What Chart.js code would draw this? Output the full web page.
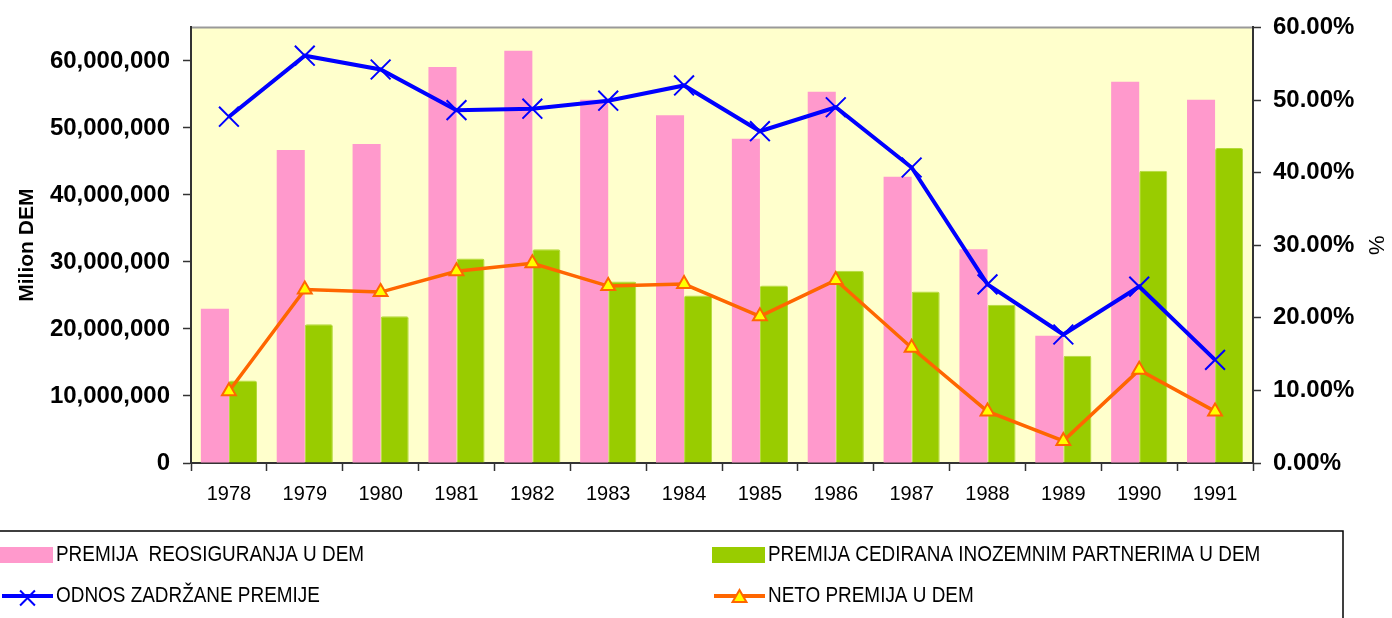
<!DOCTYPE html>
<html>
<head>
<meta charset="utf-8">
<script src="https://cdn.jsdelivr.net/npm/chart.js@4"></script>
<style>
  html, body { margin: 0; padding: 0; background: #fff; }
  #wrap { width: 1392px; height: 618px; position: relative; }
</style>
</head>
<body>
<div id="wrap"><canvas id="chart"></canvas></div>
<script>
// categories and values
const years = ["1978", "1979", "1980", "1981", "1982", "1983", "1984", "1985", "1986", "1987", "1988", "1989", "1990", "1991"];

const premijaReosiguranja = [23.0, 46.7, 47.6, 59.1, 61.5, 54.2, 51.9, 48.4, 55.4, 42.7, 31.9, 19.0, 56.9, 54.2].map((v) => v * 1e6);
const premijaCedirana = [12.3, 20.7, 21.9, 30.5, 31.9, 27.1, 25.0, 26.5, 28.7, 25.6, 23.6, 16.0, 43.6, 47.0].map((v) => v * 1e6);
const netoPremija = [10.7, 25.9, 25.5, 28.6, 29.8, 26.4, 26.7, 21.9, 27.3, 17.2, 7.7, 3.3, 13.9, 7.7].map((v) => v * 1e6);
const odnosZadrzane = [47.7, 56.1, 54.2, 48.6, 48.8, 49.9, 52.0, 45.7, 49.0, 40.7, 24.6, 17.7, 24.3, 14.2].map((v) => v / 100);

const leftTicks = [0, 10e6, 20e6, 30e6, 40e6, 50e6, 60e6];
const FONT = "'Liberation Sans', Arial, sans-serif";

// yellow plot area with a grey top edge
const plotBackground = {
  id: "plotBackground",
  beforeDraw(chart) {
    const { ctx, chartArea: a } = chart;
    ctx.save();
    ctx.fillStyle = "#FFFFCC";
    ctx.fillRect(a.left, a.top, a.right - a.left, a.bottom - a.top);
    ctx.strokeStyle = "#999999";
    ctx.lineWidth = 2;
    ctx.beginPath();
    ctx.moveTo(a.left, a.top);
    ctx.lineTo(a.right, a.top);
    ctx.stroke();
    ctx.restore();
  },
};

// boxed legend below the chart, two columns
const boxLegend = {
  id: "boxLegend",
  afterDraw(chart) {
    const ctx = chart.ctx;
    const ds = chart.data.datasets;
    const slots = [
      { i: 0, x: 0, y: 555 },
      { i: 1, x: 712, y: 555 },
      { i: 2, x: 0, y: 596 },
      { i: 3, x: 712, y: 596 },
    ];
    ctx.save();
    ctx.strokeStyle = "#000";
    ctx.lineWidth = 1.5;
    ctx.strokeRect(-2, 531, 1345, 120);

    ctx.font = "22px " + FONT;
    ctx.textBaseline = "middle";
    ctx.textAlign = "left";
    for (const s of slots) {
      const d = ds[s.i];
      const w = 53;
      if (d.type === "line") {
        ctx.strokeStyle = d.borderColor;
        ctx.lineWidth = 4;
        ctx.beginPath();
        ctx.moveTo(s.x + 2, s.y);
        ctx.lineTo(s.x + w, s.y);
        ctx.stroke();
        ctx.fillStyle = d.pointBackgroundColor;
        ctx.strokeStyle = d.pointBorderColor;
        ctx.lineWidth = d.pointBorderWidth;
        Chart.helpers.drawPoint(ctx, {
          pointStyle: d.pointStyle,
          radius: d.pointStyle === "triangle" ? d.pointRadius : d.pointRadius * 0.75,
          borderWidth: d.pointBorderWidth,
          rotation: 0,
        }, s.x + w / 2 + 1, s.y + 2);
      } else {
        ctx.fillStyle = d.backgroundColor;
        ctx.fillRect(s.x, s.y - 8, w, 16);
      }
      ctx.fillStyle = "#000";
      const natural = ctx.measureText(d.label).width;
      ctx.fillText(d.label, s.x + w + 3, s.y, natural * 0.86);
    }
    ctx.restore();
  },
};

new Chart(document.getElementById("chart"), {
  type: "bar",
  data: {
    labels: years,
    datasets: [
      {
        label: "PREMIJA  REOSIGURANJA U DEM",
        data: premijaReosiguranja,
        backgroundColor: "#FF99CC",
        yAxisID: "y",
        categoryPercentage: 0.74,
        barPercentage: 1.0,
        order: 2,
      },
      {
        label: "PREMIJA CEDIRANA INOZEMNIM PARTNERIMA U DEM",
        data: premijaCedirana,
        backgroundColor: "#99CC00",
        borderColor: "#B3D93A",
        borderWidth: 1,
        borderRadius: { topLeft: 2, topRight: 2 },
        borderSkipped: "bottom",
        yAxisID: "y",
        categoryPercentage: 0.74,
        barPercentage: 1.0,
        order: 2,
      },
      {
        type: "line",
        label: "ODNOS ZADRŽANE PREMIJE",
        data: odnosZadrzane,
        yAxisID: "y1",
        borderColor: "#0000FF",
        borderWidth: 4,
        pointStyle: "crossRot",
        pointRadius: 14,
        pointBorderWidth: 2,
        pointBorderColor: "#0000FF",
        pointBackgroundColor: "#0000FF",
        tension: 0,
        order: 0,
      },
      {
        type: "line",
        label: "NETO PREMIJA U DEM",
        data: netoPremija,
        yAxisID: "y",
        borderColor: "#FF6600",
        borderWidth: 3.5,
        pointStyle: "triangle",
        pointRadius: 8,
        pointBorderWidth: 2,
        pointBorderColor: "#FF6600",
        pointBackgroundColor: "#FFFF00",
        tension: 0,
        order: 1,
      },
    ],
  },
  options: {
    responsive: true,
    maintainAspectRatio: false,
    animation: false,
    layout: { padding: { top: 23, left: 0, right: 0, bottom: 0 } },
    plugins: {
      legend: { display: false },
      tooltip: { enabled: false },
    },
    scales: {
      x: {
        offset: true,
        grid: {
          offset: true,
          drawOnChartArea: false,
          drawTicks: true,
          tickLength: 8,
          tickColor: "#333",
          tickWidth: 1.5,
        },
        border: { color: "#333", width: 2 },
        ticks: {
          color: "#000",
          padding: 11,
          maxRotation: 0,
          autoSkip: false,
          font: { family: FONT, size: 20 },
        },
        afterFit(scale) { scale.height = 155; },
      },
      y: {
        position: "left",
        min: 0,
        max: 65e6,
        afterBuildTicks(scale) {
          scale.ticks = leftTicks.map((v) => ({ value: v }));
        },
        grid: {
          drawOnChartArea: false,
          drawTicks: true,
          tickLength: 8,
          tickColor: "#333",
          tickWidth: 1.5,
        },
        border: { color: "#333", width: 2 },
        ticks: {
          color: "#000",
          padding: 13,
          font: { family: FONT, size: 24, weight: "bold" },
          callback: (v) => Number(v).toLocaleString("en-US"),
        },
        title: {
          display: true,
          text: "Milion DEM",
          color: "#000",
          padding: { top: 15, bottom: 0 },
          font: { family: FONT, size: 21, weight: "bold" },
        },
        afterFit(scale) { scale.width = 191; },
      },
      y1: {
        position: "right",
        min: 0,
        max: 0.6,
        grid: {
          drawOnChartArea: false,
          drawTicks: true,
          tickLength: 8,
          tickColor: "#333",
          tickWidth: 1.5,
        },
        border: { color: "#333", width: 2 },
        ticks: {
          stepSize: 0.1,
          color: "#000",
          padding: 12,
          font: { family: FONT, size: 24, weight: "bold" },
          callback: (v) => (v * 100).toFixed(2) + "%",
        },
        title: {
          display: true,
          text: "%",
          color: "#000",
          padding: { top: 4, bottom: 0 },
          font: { family: FONT, size: 22 },
        },
        afterFit(scale) { scale.width = 139; },
      },
    },
  },
  plugins: [plotBackground, boxLegend],
});
</script>
</body>
</html>
